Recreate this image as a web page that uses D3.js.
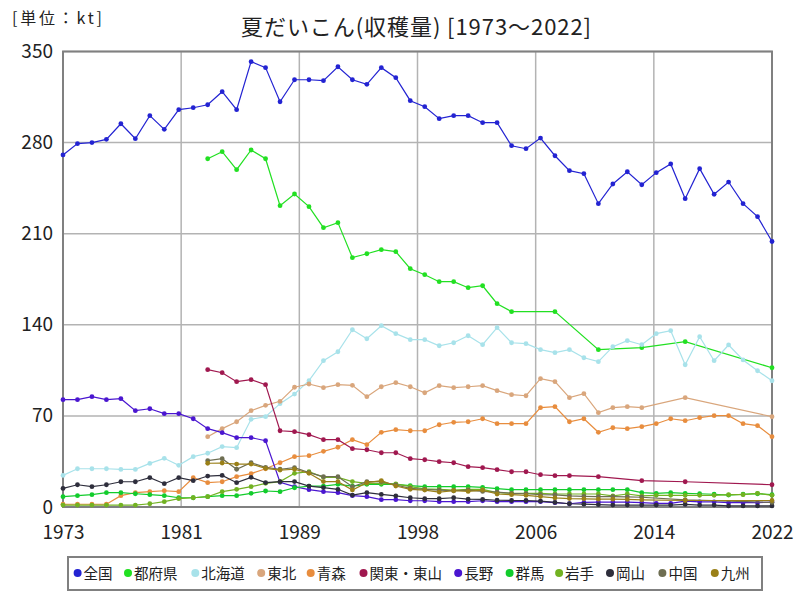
<!DOCTYPE html>
<html><head><meta charset="utf-8">
<script src="https://cdn.jsdelivr.net/npm/d3@7/dist/d3.min.js"></script>
<style>body{margin:0;background:#fff;}svg{display:block;font-family:"Noto Sans CJK JP","Noto Sans",sans-serif;}</style>
</head><body><svg id="c" width="800" height="600"></svg>
<script>
const years = d3.range(1973, 2023);
const seriesNames = ["全国","都府県","北海道","東北","青森","関東・東山","長野","群馬","岩手","岡山","中国","九州"];
const seriesColors = ["#2323d2","#22e022","#a8e2ea","#d9a67c","#e88d3e","#a0184f","#4a16d0","#12cc2c","#72b222","#2e2e3c","#6e6e52","#9a8018"];
const N = null;
const zenkoku = [270.5,279.2,280,282.5,294.5,283,300.7,290.2,305.3,306.8,309.1,319.1,305.3,342.2,337.6,311.4,328.3,328.3,327.6,338.3,328.3,324.8,337.6,329.9,312.2,307.6,298.4,300.7,300.7,295.3,295.3,277.6,275.3,283.5,269.9,258.4,256.1,233.1,248.2,257.6,247.6,256.9,263.6,236.9,260,240.3,249.7,233.1,223.1,204];
const tofuken = [N,N,N,N,N,N,N,N,N,N,267.6,273,259.2,274.3,267.6,231.5,240.5,230.8,214.6,218.5,191.6,194.6,197.7,196.2,183.1,178.5,173.1,173.1,168.5,170,156.2,150.1,N,N,150.1,N,N,120.9,N,N,122.4,N,N,127,N,N,N,N,N,107];
const hokkaido = [24.3,29.4,29.4,29.4,28.9,28.9,33.5,37.4,32,38.7,41.3,46.4,45.6,67.4,69.4,79.4,86.8,97.1,112.4,119.3,136.2,129.3,139.3,133.2,128.6,128.6,123.9,126.2,131.6,124.7,137.8,126.2,125.5,120.9,118.6,120.9,114.7,111.7,123.2,127.8,124.7,133.2,135.5,109.3,130.9,112.4,124.5,113,104.7,97];
const tohoku = [N,N,N,N,N,N,N,N,N,N,54,60.2,65.5,74,78.1,81.2,92,94.5,91.7,94,93.5,84.8,92.4,95.5,92.4,87.8,93.2,91.7,92.4,93.2,89.4,86.3,85.5,98.6,96.3,84,87.1,72.5,76.3,77.1,76.3,N,N,84,N,N,N,N,N,69.4];
const aomori = [2.1,2.1,2.1,2.1,8.7,11,11.8,12.5,11.8,22.5,18.7,19.4,23.3,25.6,29.4,34,38.7,39.4,42.8,45.9,51.7,47.9,57.4,59.4,58.6,58.6,63.2,65.1,65.5,67.8,64,64,64,76.3,77.1,65.5,67.8,57.4,60.9,60.2,61.7,64,67.8,66.3,68.6,70.2,70.2,64,62.5,54];
const kanto = [N,N,N,N,N,N,N,N,N,N,105.5,103.2,96.3,97.8,94,58.6,57.9,55.6,51.7,51.7,44.8,44,41.7,41.7,37.1,36.3,34.8,34,31,30.2,28.7,27.1,27.1,24.8,24.1,24.1,N,23.3,N,N,20.2,N,N,19.4,N,N,N,N,N,17.1];
const nagano = [82.5,82.5,84.8,82.5,83.2,74,75.5,71.7,71.7,67.8,60.2,57.1,53.3,53.3,50.9,19,15.6,13.3,11.8,11,8.7,7.9,5.6,5.6,4.8,4.8,4.1,4.1,4.1,4.8,4.1,4.1,4.1,4.1,3.3,2.5,3.5,3.8,3.8,3.8,3.3,2.8,2.8,4.5,4,4,3.3,3.3,3.3,3.8];
const gunma = [7.9,8.7,9.5,11,11,10.2,9.5,8.7,7.1,7.1,7.9,8.7,8.7,10.5,12.3,11.8,14.8,16.1,16.1,17.4,16.1,17.4,17.4,17.4,16.4,15.6,15.6,15.6,15.6,15.1,14.1,13.3,13.3,13.3,13.3,13.3,13.3,13.3,13.3,13.3,11,10.5,11,10.5,10.2,9.8,9.2,9.8,10.2,9.5];
const iwate = [1.5,1.5,1.5,1.5,1.5,1.5,2.5,4.1,6.4,7.1,7.9,11.8,13.6,15.6,18.2,19.5,25.9,27.1,22.8,22.8,19.5,18.2,18.2,17.7,15.6,14,13.5,13,13.5,13.5,11,10.5,10.5,10.5,10,10,10,10,8.6,10,8.5,9,9,9,9,9,9.5,9.5,10.5,9];
const okayama = [14.3,17.1,15.6,17.1,19.4,19.4,22.5,17.9,22.5,20.2,23.8,24.3,18.7,22.8,18.7,19.5,19.5,16.1,14.9,13.6,9.2,11,9.7,8.5,7.1,6.4,6.4,7.1,6,5.8,5.2,5,5,4.5,3.5,2.5,2.2,1.8,1.5,1.5,1.5,1.5,1.5,2,1.5,1.5,0.8,0.8,0.8,0.8];
const chugoku = [N,N,N,N,N,N,N,N,N,N,35.6,37.1,29,34,30.5,29,30.2,26.4,23.3,23.3,15.6,19.5,19.5,16.9,14.3,13.5,13,12.5,13,12,11.5,10.5,10.2,9.5,9.3,8.5,8.2,8,8,7.8,7.5,N,N,5.5,N,N,N,N,N,3.5];
const kyushu = [N,N,N,N,N,N,N,N,N,N,33.6,33.8,33,33,29.7,28.4,29,25.9,19.5,19.5,13.1,18.7,20.2,16.1,13.6,13,11.5,12.5,12,13,10,9.5,9,8,7,6.5,6.3,6,6,5.8,5.5,N,N,5,N,N,N,N,N,5];
const seriesValues = [zenkoku,tofuken,hokkaido,tohoku,aomori,kanto,nagano,gunma,iwate,okayama,chugoku,kyushu];
const yTicks = [0,70,140,210,280,350];
const titleText = "夏だいこん(収穫量) [1973〜2022]";
const unitText = "[単位：kt]";

const svg = d3.select("#c");
const L = 63, R = 772, T = 51.5, B = 507;
const x = d3.scaleLinear().domain([1973, 2022]).range([L, R]);
const y = d3.scaleLinear().domain([0, 350]).range([B, T]);
const xTicks = d3.range(7).map(i => 1973 + i * 49 / 6);

// grid
const grid = svg.append("g");
grid.selectAll(".gx").data(xTicks).join("line")
  .attr("x1", d => x(d)).attr("x2", d => x(d)).attr("y1", T).attr("y2", B)
  .attr("stroke", "#b3b3b3").attr("stroke-width", 1.5);
grid.selectAll(".gy").data(yTicks).join("line")
  .attr("x1", L).attr("x2", R).attr("y1", d => y(d)).attr("y2", d => y(d))
  .attr("stroke", "#b3b3b3").attr("stroke-width", 1.5);
svg.append("rect").attr("x", L).attr("y", T).attr("width", R - L).attr("height", B - T)
  .attr("fill", "none").attr("stroke", "#808080").attr("stroke-width", 2);

// axes labels via d3 axes
const yAxis = svg.append("g").attr("transform", `translate(${L},0)`)
  .call(d3.axisLeft(y).tickValues(yTicks).tickSize(0).tickPadding(10).tickFormat(d3.format("d")));
yAxis.select(".domain").remove();
yAxis.selectAll("text").attr("font-size", 19).attr("fill", "#222").attr("font-family", "Noto Sans CJK JP");
const xAxis = svg.append("g").attr("transform", `translate(0,${B})`)
  .call(d3.axisBottom(x).tickValues(xTicks).tickSize(0).tickPadding(19).tickFormat(d => String(Math.round(d))));
xAxis.select(".domain").remove();
xAxis.selectAll("text").attr("font-size", 19).attr("fill", "#222").attr("font-family", "Noto Sans CJK JP");

// series
const line = d3.line().x(d => x(d[0])).y(d => y(d[1]));
seriesValues.forEach((vals, i) => {
  const pts = years.map((yr, j) => [yr, vals[j]]).filter(p => p[1] !== null);
  const g = svg.append("g");
  g.append("path").attr("d", line(pts)).attr("fill", "none")
    .attr("stroke", seriesColors[i]).attr("stroke-width", 1.2);
  g.selectAll("circle").data(pts).join("circle")
    .attr("cx", d => x(d[0])).attr("cy", d => y(d[1])).attr("r", 2.4)
    .attr("fill", seriesColors[i]);
});

// title
svg.append("text").attr("x", 416).attr("y", 35).attr("text-anchor", "middle")
  .attr("font-size", 22).attr("fill", "#222").attr("textLength", 350).text(titleText);
svg.append("text").attr("x", 12).attr("y", 24).attr("font-size", 16).attr("fill", "#222")
  .attr("textLength", 90).text(unitText);

// legend
const lg = svg.append("g");
lg.append("rect").attr("x", 68).attr("y", 557).attr("width", 694).attr("height", 33)
  .attr("fill", "#fff").attr("stroke", "#808080").attr("stroke-width", 2);
const legX = [77.6, 128, 195.3, 261.2, 310.7, 363.5, 458.2, 509.6, 559.1, 610, 662.4, 714.8];
seriesNames.forEach((n, i) => {
  lg.append("circle").attr("cx", legX[i]).attr("cy", 573).attr("r", 4).attr("fill", seriesColors[i]);
  lg.append("text").attr("x", legX[i] + 6).attr("y", 578.5).attr("font-size", 14.5).attr("fill", "#222").text(n);
});
</script></body></html>
